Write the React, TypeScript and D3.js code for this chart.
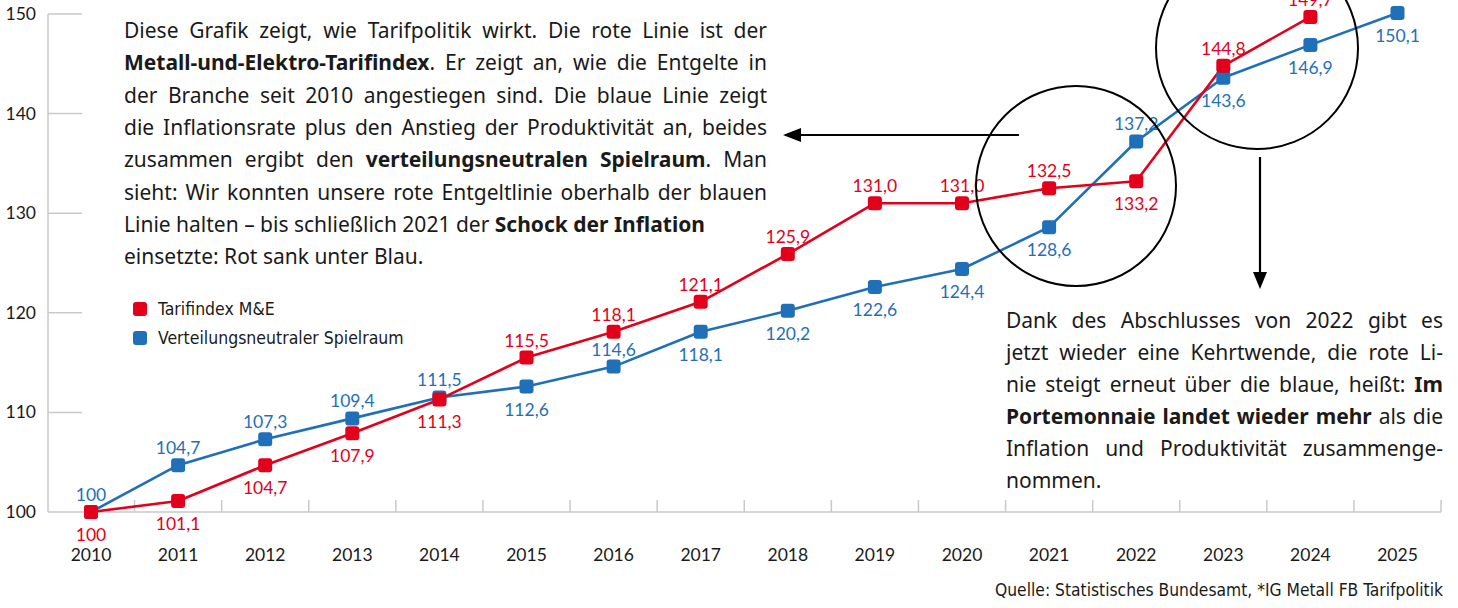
import React from "react";
import * as d3 from "d3";

const years = [2010, 2011, 2012, 2013, 2014, 2015, 2016, 2017, 2018, 2019, 2020, 2021, 2022, 2023, 2024, 2025];
const tarifindex = [100, 101.1, 104.7, 107.9, 111.3, 115.5, 118.1, 121.1, 125.9, 131.0, 131.0, 132.5, 133.2, 144.8, 149.7];
const spielraum = [100, 104.7, 107.3, 109.4, 111.5, 112.6, 114.6, 118.1, 120.2, 122.6, 124.4, 128.6, 137.2, 143.6, 146.9, 150.1];
// label placement: "a" above, "b" below
const tarifLabelPos = ["b", "b", "b", "b", "b", "a", "a", "a", "a", "a", "a", "a", "b", "a", "a"];
const spielLabelPos = ["a", "a", "a", "a", "a", "b", "a", "b", "b", "b", "b", "b", "a", "b", "b", "b"];
const yTicks = [100, 110, 120, 130, 140, 150];
const seriesNames = ["Tarifindex M&E", "Verteilungsneutraler Spielraum"];
const sourceText = "Quelle: Statistisches Bundesamt, *IG Metall FB Tarifpolitik";

type Seg = { t: string; b?: boolean };
const textLeft: Seg[][] = [
  [{ t: "Diese Grafik zeigt, wie Tarifpolitik wirkt. Die rote Linie ist der" }],
  [{ t: "Metall-und-Elektro-Tarifindex", b: true }, { t: ". Er zeigt an, wie die Entgelte in" }],
  [{ t: "der Branche seit 2010 angestiegen sind. Die blaue Linie zeigt" }],
  [{ t: "die Inflationsrate plus den Anstieg der Produktivität an, beides" }],
  [{ t: "zusammen ergibt den " }, { t: "verteilungsneutralen Spielraum", b: true }, { t: ". Man" }],
  [{ t: "sieht: Wir konnten unsere rote Entgeltlinie oberhalb der blauen" }],
  [{ t: "Linie halten – bis schließlich 2021 der " }, { t: "Schock der Inflation", b: true }],
  [{ t: "einsetzte: Rot sank unter Blau." }],
];
const textLeftJustify = [true, true, true, true, true, true, false, false];
const textRight: Seg[][] = [
  [{ t: "Dank des Abschlusses von 2022 gibt es" }],
  [{ t: "jetzt wieder eine Kehrtwende, die rote Li-" }],
  [{ t: "nie steigt erneut über die blaue, heißt: " }, { t: "Im", b: true }],
  [{ t: "Portemonnaie landet wieder mehr", b: true }, { t: " als die" }],
  [{ t: "Inflation und Produktivität zusammenge-" }],
  [{ t: "nommen." }],
];
const textRightJustify = [true, true, true, true, true, false];

const RED = "#e2001a";
const BLUE = "#1f6fb9";
const GREY = "#c9c9c9";
const TXT = "#1a1a1a";
const BODY_FONT = "'Noto Sans'";
const AXIS_FONT = "Lato";
const COND_FONT = "'Liberation Sans Narrow', 'DejaVu Sans Condensed', sans-serif";

let ctx: CanvasRenderingContext2D | null = null;
function measure(s: string, bold: boolean, size: number, fam: string) {
  if (!ctx) ctx = document.createElement("canvas").getContext("2d");
  if (!ctx) return s.length * size * 0.5;
  ctx.font = `${bold ? "bold " : ""}${size}px ${fam}`;
  return ctx.measureText(s).width;
}

function JustLine({ segs, x, y, width, justify, size, fam }: { segs: Seg[]; x: number; y: number; width: number; justify: boolean; size: number; fam: string }) {
  const words: { t: string; b: boolean; sp: boolean }[] = [];
  let pendingSpace = false;
  segs.forEach((sg) => {
    const parts = sg.t.split(/( +)/);
    parts.forEach((p) => {
      if (p === "") return;
      if (/^ +$/.test(p)) { pendingSpace = true; return; }
      words.push({ t: p, b: !!sg.b, sp: pendingSpace && words.length > 0 });
      pendingSpace = false;
    });
  });
  const normalSpace = measure(" ", false, size, fam);
  let widths = words.map((w) => measure(w.t, w.b, size, fam));
  const nGaps = words.filter((w) => w.sp).length;
  let total = d3.sum(widths);
  // if a line is too long for the box, compress glyphs slightly
  let squeeze = 1;
  const minGap = normalSpace * 0.7;
  if (justify && total + nGaps * minGap > width) {
    squeeze = (width - nGaps * minGap) / total;
    widths = widths.map((w) => w * squeeze);
    total = d3.sum(widths);
  }
  let gap = normalSpace;
  if (justify && nGaps > 0) gap = (width - total) / nGaps;
  let cx = x;
  const els: React.ReactNode[] = [];
  words.forEach((w, i) => {
    if (w.sp) cx += gap;
    els.push(
      <text key={i} x={cx} y={y} fontFamily={fam} fontSize={size} fontWeight={w.b ? 700 : 400} fill={TXT}
        textLength={squeeze < 1 ? widths[i] : undefined} lengthAdjust={squeeze < 1 ? "spacingAndGlyphs" : undefined}>
        {w.t}
      </text>
    );
    cx += widths[i];
  });
  return <g>{els}</g>;
}

function fmt(v: number) {
  return v === 100 ? "100" : d3.format(".1f")(v).replace(".", ",");
}

export default function App() {
  const W = 1458, H = 608;
  const x = d3.scaleLinear().domain([2010, 2025]).range([91, 1397.5]);
  const y = d3.scaleLinear().domain([100, 150]).range([512, 14]);
  const line = d3.line<number>().x((_, i) => x(years[i])).y((d) => y(d));
  const markerSize = 14;

  const renderSeries = (vals: number[], color: string) => (
    <path d={line(vals) || ""} fill="none" stroke={color} strokeWidth={2.6} strokeLinejoin="round" />
  );
  const renderMarkers = (vals: number[], color: string) => (
    <g>
      {vals.map((v, i) => (
        <rect key={i} x={x(years[i]) - markerSize / 2} y={y(v) - markerSize / 2} width={markerSize} height={markerSize} rx={3} fill={color} />
      ))}
    </g>
  );
  const renderLabels = (vals: number[], pos: string[], color: string) => (
    <g>
      {vals.map((v, i) => (
        <text key={i} x={x(years[i])} y={y(v) + (pos[i] === "a" ? -11 : 29)} textAnchor="middle" fontFamily={AXIS_FONT} fontSize={17.5} fill={color}>
          {fmt(v)}
        </text>
      ))}
    </g>
  );

  return (
    <svg width={W} height={H} style={{ position: "absolute", left: 0, top: 0, display: "block", background: "#fff" }}>
      {/* axes */}
      <line x1={48} x2={48} y1={y(150)} y2={y(100)} stroke={GREY} strokeWidth={1.5} />
      {yTicks.filter((t) => t !== 100).map((t) => (
        <line key={t} x1={48} x2={82} y1={y(t)} y2={y(t)} stroke={GREY} strokeWidth={1.5} />
      ))}
      <line x1={48} x2={x(2025.5)} y1={y(100)} y2={y(100)} stroke={GREY} strokeWidth={1.5} />
      {years.map((yr) => (
        <line key={yr} x1={x(yr + 0.5)} x2={x(yr + 0.5)} y1={y(100)} y2={y(100) - 12} stroke={GREY} strokeWidth={1.5} />
      ))}
      {yTicks.map((t) => (
        <text key={t} x={36} y={y(t) + 6} textAnchor="end" fontFamily={AXIS_FONT} fontSize={17.5} fill={TXT}>
          {t}
        </text>
      ))}
      {years.map((yr) => (
        <text key={yr} x={x(yr)} y={561} textAnchor="middle" fontFamily={AXIS_FONT} fontSize={17.5} fill={TXT}>
          {yr}
        </text>
      ))}

      {/* series */}
      {renderSeries(spielraum, BLUE)}
      {renderSeries(tarifindex, RED)}
      {renderMarkers(spielraum, BLUE)}
      {renderMarkers(tarifindex, RED)}
      {renderLabels(spielraum, spielLabelPos, BLUE)}
      {renderLabels(tarifindex, tarifLabelPos, RED)}

      {/* circles */}
      <circle cx={1076} cy={186} r={100} fill="none" stroke="#000" strokeWidth={2} />
      <circle cx={1257} cy={48} r={101} fill="none" stroke="#000" strokeWidth={2} />

      {/* arrows */}
      <line x1={1019} x2={795} y1={135} y2={135} stroke="#000" strokeWidth={2.2} />
      <polygon points="783,135 801,128 801,142" fill="#000" />
      <line x1={1260} x2={1260} y1={157} y2={276} stroke="#000" strokeWidth={2.2} />
      <polygon points="1260,289 1253,272 1267,272" fill="#000" />

      {/* legend */}
      <rect x={133} y={302} width={14} height={14} rx={3} fill={RED} />
      <text x={158} y={315} fontFamily={COND_FONT} fontSize={17.5} fill={TXT}>{seriesNames[0]}</text>
      <rect x={133} y={331} width={14} height={14} rx={3} fill={BLUE} />
      <text x={158} y={344} fontFamily={COND_FONT} fontSize={17.5} fill={TXT}>{seriesNames[1]}</text>

      {/* annotation texts */}
      {textLeft.map((segs, i) => (
        <JustLine key={i} segs={segs} x={124} y={38 + i * 32.3} width={643} justify={textLeftJustify[i]} size={21} fam={BODY_FONT} />
      ))}
      {textRight.map((segs, i) => (
        <JustLine key={i} segs={segs} x={1006} y={328 + i * 32} width={437} justify={textRightJustify[i]} size={21} fam={BODY_FONT} />
      ))}

      {/* source */}
      <text x={1443} y={596} textAnchor="end" fontFamily={COND_FONT} fontSize={17.3} fill={TXT}>{sourceText}</text>
    </svg>
  );
}
